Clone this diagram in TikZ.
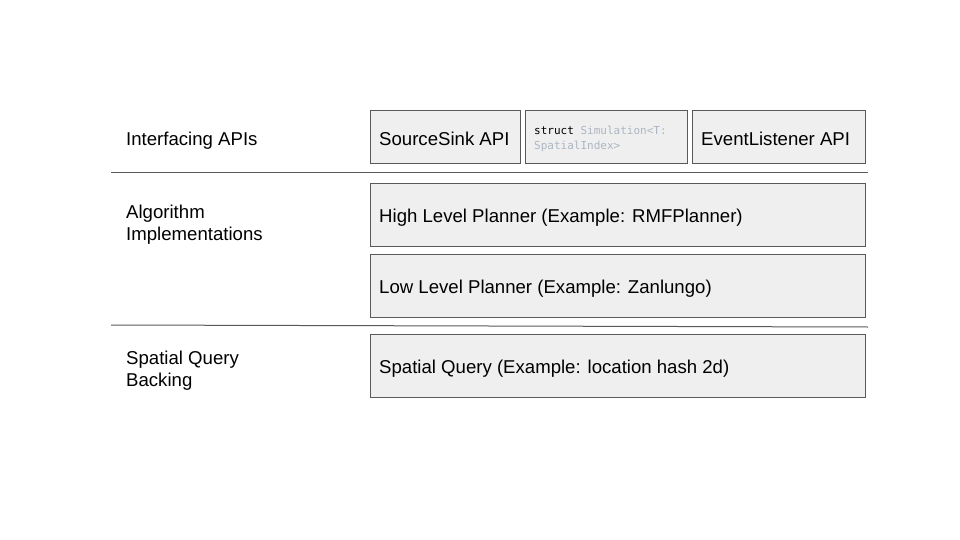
\documentclass[tikz,border=0pt]{standalone}
\usepackage{fontspec}
\setmainfont{Liberation Sans}
\setmonofont{DejaVu Sans Mono}
\usetikzlibrary{positioning}
\definecolor{boxgray}{RGB}{239,239,239}
\definecolor{edgegray}{RGB}{89,89,89}
\definecolor{codegray}{RGB}{172,182,194}

\tikzset{
  layerbox/.style={draw=edgegray,fill=boxgray,line width=0.9pt,anchor=north west,
    inner sep=0pt,text depth=0pt},
  boxtext/.style={anchor=west,font=\fontsize{18.6}{22}\selectfont,inner sep=0pt},
  sidetext/.style={anchor=west,align=left,font=\fontsize{18.6}{22.5}\selectfont,inner sep=0pt},
  divider/.style={draw=edgegray,line width=1pt}
}

\begin{document}
\begin{tikzpicture}[x=1pt,y=-1pt]
  \useasboundingbox (0,0) rectangle (960,540);
  % interfacing layer
  \node[layerbox,minimum width=150,minimum height=53] (sink) at (370,110) {};
  \node[layerbox,minimum width=162,minimum height=53] (sim) at (525,110) {};
  \node[layerbox,minimum width=173,minimum height=53] (events) at (692,110) {};
  \node[boxtext] (sinktxt) at (379,139) {SourceSink API};
  \node[anchor=west,inner sep=0pt,align=left,font=\ttfamily\fontsize{11}{15}\selectfont] (simtxt) at (534,139)
    {struct \textcolor{codegray}{Simulation<T:}\\\textcolor{codegray}{SpatialIndex>}};
  \node[boxtext] (eventstxt) at (701,139) {EventListener API};
  \node[sidetext] (apis) at (126,141) {Interfacing APIs};
  \draw[divider] (111,173) -- (868,173);
  % algorithm layer
  \node[layerbox,minimum width=495,minimum height=63] (high) at (370,183) {};
  \node[boxtext] (hightxt) at (379,217.5) {High Level Planner (Example: RMFPlanner)};
  \node[layerbox,minimum width=495,minimum height=63] (low) at (370,254) {};
  \node[boxtext] (lowtxt) at (379,288.5) {Low Level Planner (Example: Zanlungo)};
  \node[sidetext] (algos) at (126,224.5) {Algorithm\\Implementations};
  \draw[divider] (111,325) -- (868,327);
  % spatial layer
  \node[layerbox,minimum width=495,minimum height=63] (spatial) at (370,334) {};
  \node[boxtext] (spatialtxt) at (379,368.5) {Spatial Query (Example: location hash 2d)};
  \node[sidetext] (backing) at (126,370.5) {Spatial Query\\Backing};
\end{tikzpicture}
\end{document}
